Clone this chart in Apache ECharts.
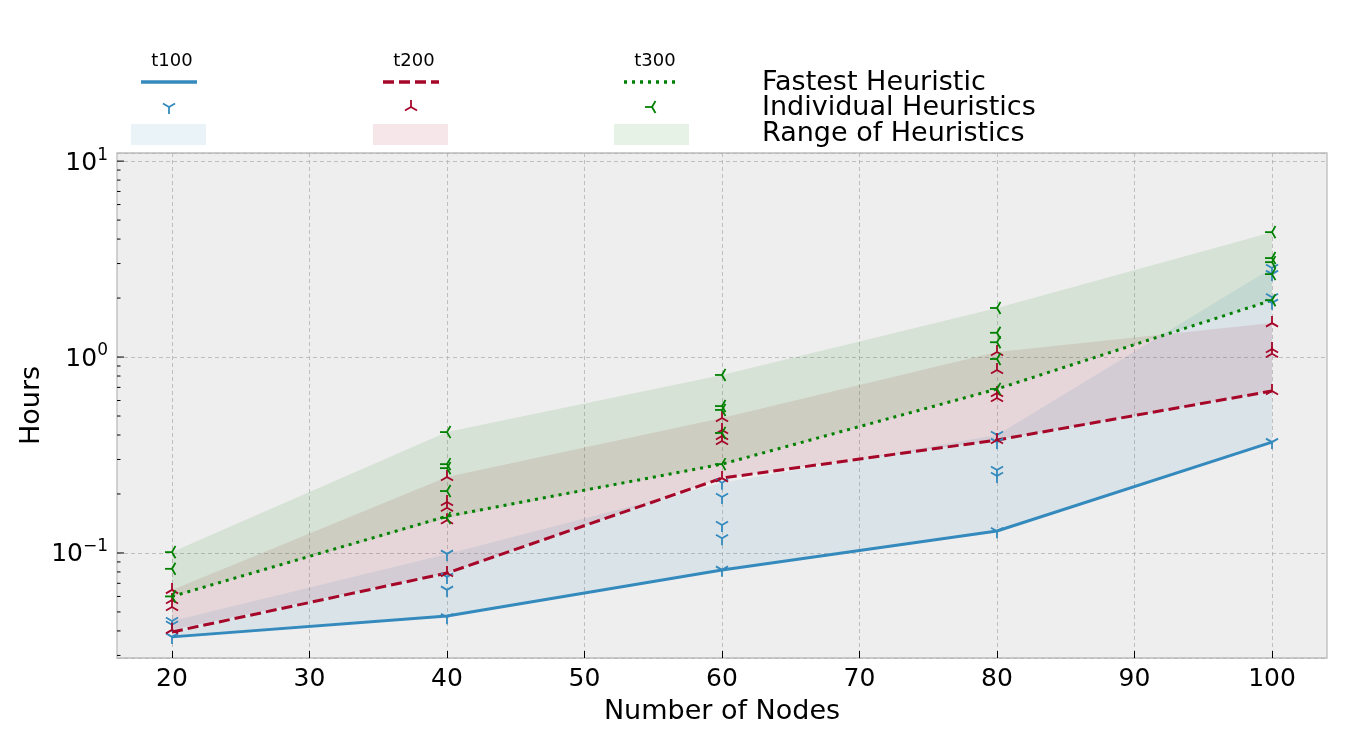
<!DOCTYPE html>
<html>
<head>
<meta charset="utf-8">
<script src="https://cdn.jsdelivr.net/npm/echarts@6/dist/echarts.min.js"></script>
<style>html,body{margin:0;padding:0;background:#fff}#c{width:1350px;height:750px}</style>
</head>
<body>
<div id="c"></div>
<script>
// ---------- DATA ----------
const nodes = [20, 40, 60, 80, 100];
const xTickValues = [20, 30, 40, 50, 60, 70, 80, 90, 100];
const yMinorTickValues = [0.03, 0.04, 0.05, 0.06, 0.07, 0.08, 0.09,
  0.2, 0.3, 0.4, 0.5, 0.6, 0.7, 0.8, 0.9,
  2, 3, 4, 5, 6, 7, 8, 9];
const yMajorTickValues = [0.1, 1, 10];
const seriesNames = ['t100', 't200', 't300'];

const fastestT100 = [0.0373, 0.0477, 0.0819, 0.1295, 0.368];
const fastestT200 = [0.0395, 0.079, 0.241, 0.377, 0.671];
const fastestT300 = [0.060, 0.154, 0.284, 0.687, 1.95];

const heuristicsT100 = [
  [20, 0.045], [20, 0.043], [20, 0.0373],
  [40, 0.0989], [40, 0.0755], [40, 0.0648], [40, 0.047],
  [60, 0.228], [60, 0.193], [60, 0.139], [60, 0.119], [60, 0.082],
  [80, 0.40], [80, 0.368], [80, 0.265], [80, 0.247], [80, 0.129],
  [100, 2.85], [100, 2.65], [100, 2.02], [100, 1.89], [100, 0.368]
];
const heuristicsT200 = [
  [20, 0.0648], [20, 0.0575], [20, 0.053], [20, 0.0405],
  [40, 0.244], [40, 0.182], [40, 0.170], [40, 0.147], [40, 0.079],
  [60, 0.489], [60, 0.424], [60, 0.395], [60, 0.373], [60, 0.241],
  [80, 1.06], [80, 0.859], [80, 0.655], [80, 0.618], [80, 0.377],
  [100, 1.49], [100, 1.10], [100, 1.04], [100, 0.671]
];
const heuristicsT300 = [
  [20, 0.101], [20, 0.083], [20, 0.060],
  [40, 0.414], [40, 0.284], [40, 0.271], [40, 0.207], [40, 0.151],
  [60, 0.81], [60, 0.562], [60, 0.537], [60, 0.41], [60, 0.284],
  [80, 1.78], [80, 1.33], [80, 1.19], [80, 0.977], [80, 0.687],
  [100, 4.34], [100, 3.2], [100, 3.05], [100, 2.65], [100, 1.95]
];

// ---------- STYLE ----------
const FONT = 'DejaVu Sans';
const colors = ['#348ABD', '#A60628', '#008000'];
const bandColors = ['rgba(52,138,189,0.10)', 'rgba(166,6,40,0.10)', 'rgba(0,128,0,0.10)'];
const lineTypes = ['solid', [11, 5], [3, 5]];
const markerKinds = ['down', 'up', 'left'];
const fastest = [fastestT100, fastestT200, fastestT300];
const heuristics = [heuristicsT100, heuristicsT200, heuristicsT300];

function rangeOf(pts) {
  return nodes.map(n => {
    const v = pts.filter(p => p[0] === n).map(p => p[1]);
    return [n, Math.min.apply(null, v), Math.max.apply(null, v)];
  });
}

function triShape(kind, cx, cy, r, color, lw) {
  let ends;
  const a = 0.866 * r, b = 0.5 * r;
  if (kind === 'down') ends = [[cx, cy + r], [cx - a, cy - b], [cx + a, cy - b]];
  else if (kind === 'up') ends = [[cx, cy - r], [cx - a, cy + b], [cx + a, cy + b]];
  else ends = [[cx - r, cy], [cx + b, cy - a], [cx + b, cy + a]];
  return {
    type: 'group',
    children: ends.map(e => ({
      type: 'line',
      shape: { x1: cx, y1: cy, x2: e[0], y2: e[1] },
      style: { stroke: color, lineWidth: lw, lineCap: 'butt' }
    }))
  };
}

const series = [];
// bands
for (let k = 0; k < 3; k++) {
  const rng = rangeOf(heuristics[k]);
  series.push({
    type: 'custom', name: seriesNames[k] + ' range', z: 1,
    data: rng, encode: { x: 0, y: [1, 2] },
    renderItem: (params, api) => {
      if (params.dataIndex !== 0) return null;
      const pts = [];
      for (let i = 0; i < rng.length; i++) pts.push(api.coord([rng[i][0], rng[i][2]]));
      for (let i = rng.length - 1; i >= 0; i--) pts.push(api.coord([rng[i][0], rng[i][1]]));
      return { type: 'polygon', shape: { points: pts }, style: { fill: bandColors[k] } };
    }
  });
}
// fastest lines
for (let k = 0; k < 3; k++) {
  series.push({
    type: 'line', name: seriesNames[k], z: 3,
    data: nodes.map((n, i) => [n, fastest[k][i]]),
    showSymbol: false, symbol: 'none',
    lineStyle: { color: colors[k], width: 3, type: lineTypes[k], cap: 'butt' }
  });
}
// individual heuristics markers
for (let k = 0; k < 3; k++) {
  series.push({
    type: 'custom', name: seriesNames[k] + ' heuristics', z: 4,
    data: heuristics[k], encode: { x: 0, y: 1 },
    renderItem: (params, api) => {
      const p = api.coord([api.value(0), api.value(1)]);
      return triShape(markerKinds[k], p[0], p[1], 7, colors[k], 1.8);
    }
  });
}
// y ticks (major + minor) drawn inside the left spine
series.push({
  type: 'custom', name: 'yticks', z: 5, silent: true,
  data: yMajorTickValues.map(v => [16, v, 7]).concat(yMinorTickValues.map(v => [16, v, 3.5])),
  encode: { x: 0, y: 1 },
  renderItem: (params, api) => {
    const p = api.coord([api.value(0), api.value(1)]);
    return { type: 'line', shape: { x1: p[0], y1: p[1], x2: p[0] + api.value(2), y2: p[1] },
      style: { stroke: '#000', lineWidth: 1 } };
  }
});

// legend (graphic)
const legendX = [169, 411, 652];
const graphic = [];
for (let k = 0; k < 3; k++) {
  const cx = legendX[k];
  graphic.push({ type: 'text', x: cx + 3, y: 61, style: { text: seriesNames[k], fill: '#000', font: '18px "' + FONT + '"', align: 'center', verticalAlign: 'middle' } });
  graphic.push({ type: 'line', shape: { x1: cx - 28, y1: 82, x2: cx + 28, y2: 82 },
    style: { stroke: colors[k], lineWidth: 3.5, lineDash: lineTypes[k] === 'solid' ? null : lineTypes[k] } });
  const m = triShape(markerKinds[k], cx, 107, 7, colors[k], 1.8);
  graphic.push(m);
  graphic.push({ type: 'rect', shape: { x: cx - 38, y: 124, width: 75, height: 21 }, style: { fill: bandColors[k] } });
}
const legendLabels = ['Fastest Heuristic', 'Individual Heuristics', 'Range of Heuristics'];
const legendY = [83, 108, 134];
legendLabels.forEach((t, i) => graphic.push({ type: 'text', x: 762, y: legendY[i],
  style: { text: t, fill: '#000', font: '27px "' + FONT + '"', align: 'left', verticalAlign: 'middle' } }));

const option = {
  animation: false,
  backgroundColor: '#ffffff',
  textStyle: { fontFamily: FONT },
  grid: { left: 117, top: 153, width: 1210, height: 505, show: true,
    backgroundColor: '#eeeeee', borderColor: '#bcbcbc', borderWidth: 1.3 },
  xAxis: {
    type: 'value', min: 16, max: 104,
    name: 'Number of Nodes', nameLocation: 'middle', nameGap: 40,
    nameTextStyle: { fontSize: 27, color: '#000', fontFamily: FONT },
    axisLine: { show: false },
    axisTick: { show: true, inside: true, length: 7, lineStyle: { color: '#000', width: 1 }, customValues: xTickValues },
    axisLabel: { customValues: xTickValues, fontSize: 25, color: '#000', margin: 9, fontFamily: FONT },
    splitLine: { show: true, lineStyle: { color: '#b2b2b2', type: [4, 3], width: 0.8 } }
  },
  yAxis: {
    type: 'log', logBase: 10, min: 0.0291, max: 11,
    name: 'Hours', nameLocation: 'middle', nameGap: 72, nameRotate: 90, nameMoveOverlap: false,
    nameTextStyle: { fontSize: 27, color: '#000', fontFamily: FONT },
    axisLine: { show: false },
    axisTick: { show: false },
    axisLabel: {
      margin: 9, color: '#000',
      formatter: v => {
        const l = Math.log10(v), e = Math.round(l);
        if (Math.abs(l - e) > 1e-6) return '';
        return '{b|10}{s|' + String(e).replace('-', '\u2212') + '}';
      },
      rich: {
        b: { fontSize: 25, color: '#000', fontFamily: FONT, verticalAlign: 'bottom' },
        s: { fontSize: 17, color: '#000', fontFamily: FONT, verticalAlign: 'bottom', padding: [0, 0, 12, 0] }
      }
    },
    splitLine: { show: true, lineStyle: { color: '#b2b2b2', type: [4, 3], width: 0.8 } }
  },
  graphic: graphic,
  series: series
};

const chart = echarts.init(document.getElementById('c'), null, { renderer: 'canvas' });
chart.setOption(option);
</script>
</body>
</html>
